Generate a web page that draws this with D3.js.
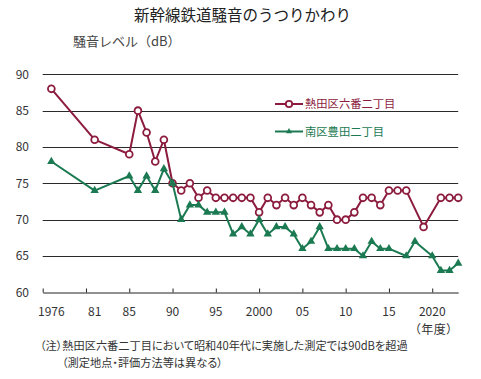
<!DOCTYPE html>
<html><head><meta charset="utf-8">
<script src="https://cdn.jsdelivr.net/npm/d3@7"></script>
<style>
body{margin:0;background:#fff;}
svg{display:block;font-family:"Noto Sans CJK JP","Noto Sans",sans-serif;}
</style></head>
<body><svg id="c" width="481" height="379"></svg>
<script>
const years = [1976,1981,1985,1986,1987,1988,1989,1990,1991,1992,1993,1994,1995,1996,1997,1998,1999,2000,2001,2002,2003,2004,2005,2006,2007,2008,2009,2010,2011,2012,2013,2014,2015,2016,2017,2018,2019,2020,2021,2022,2023];
const atsuta = [88,81,79,85,82,78,81,75,74,75,73,74,73,73,73,73,73,71,73,72,73,72,73,72,71,72,70,70,71,73,73,72,74,74,74,null,69,null,73,73,73];
const minami = [78,74,76,74,76,74,77,75,70,72,72,71,71,71,68,69,68,70,68,69,69,68,66,67,69,66,66,66,66,65,67,66,66,null,65,67,null,65,63,63,64];
const seriesNames = ["熱田区六番二丁目","南区豊田二丁目"];
const yTicks = [60,65,70,75,80,85,90];
const xTickMarks = [1975,1980,1985,1990,1995,2000,2005,2010,2015,2020];
const xLabelYears = [1976,1981,1985,1990,1995,2000,2005,2010,2015,2020];
const xLabelTexts = ["1976","81","85","90","95","2000","05","10","15","2020"];
const title = "新幹線鉄道騒音のうつりかわり";
const yTitle = "騒音レベル（dB）";
const xUnit = "（年度）";
const notes = ["（注）熱田区六番二丁目において昭和40年代に実施した測定では90dBを超過","（測定地点・評価方法等は異なる）"];

const RED = "#8c1c3e", GREEN = "#1b7a52";
const svg = d3.select("#c");
const x = d3.scaleLinear().domain([1975, 2023]).range([42.7, 458.2]);
const y = d3.scaleLinear().domain([60, 90]).range([292.3, 74.3]);

// title
svg.append("text").attr("x", 242.5).attr("y", 20.5).attr("text-anchor","middle")
  .attr("font-size","15.5px").attr("fill","#222").text(title);
svg.append("text").attr("x", 73).attr("y", 46).attr("font-size","13px").attr("fill","#444").text(yTitle);

// grid
svg.append("g").selectAll("line").data(yTicks.filter(v=>v>60)).join("line")
  .attr("x1", x(1975)).attr("x2", x(2023))
  .attr("y1", d=>Math.round(y(d))+0.5).attr("y2", d=>Math.round(y(d))+0.5)
  .attr("stroke","#2a2a2a").attr("stroke-width",1);

// y labels
svg.append("g").selectAll("text").data(yTicks).join("text")
  .attr("x", 29).attr("y", d=>y(d)+4.5).attr("text-anchor","end")
  .attr("font-size","12px").attr("fill","#333").text(d=>d);

// x axis
const xAxis = d3.axisBottom(x).tickValues(xTickMarks).tickSizeInner(-4).tickSizeOuter(0).tickFormat("");
const gx = svg.append("g").attr("transform", `translate(0,${Math.round(y(60))+0.5})`).call(xAxis);
gx.select(".domain").attr("stroke","#222");
gx.selectAll(".tick line").attr("stroke","#222");
svg.append("g").selectAll("text").data(xLabelYears).join("text")
  .attr("x", d=>x(d)).attr("y", 315.5).attr("text-anchor","middle")
  .attr("font-size","12px").attr("fill","#333").text((d,i)=>xLabelTexts[i]);
svg.append("text").attr("x", 433.5).attr("y", 334).attr("text-anchor","middle")
  .attr("font-size","12px").attr("fill","#333").text(xUnit)
  .style("font-feature-settings","'palt'").attr("textLength",38).attr("lengthAdjust","spacing");

// notes
svg.append("text").attr("x", 40).attr("y", 349.5).attr("font-size","11.2px").attr("fill","#333")
  .style("font-feature-settings","'palt'").text(notes[0]);
svg.append("text").attr("x", 62).attr("y", 366.5).attr("font-size","11.2px").attr("fill","#333")
  .style("font-feature-settings","'palt'").text(notes[1]);

// lines
function seriesData(vals){ return years.map((yr,i)=>({yr, v: vals[i]})).filter(d=>d.v!=null); }
const line = d3.line().x(d=>x(d.yr)).y(d=>y(d.v));
const redData = seriesData(atsuta), greenData = seriesData(minami);

svg.append("path").datum(redData).attr("d", line).attr("fill","none").attr("stroke",RED).attr("stroke-width",2).attr("stroke-linejoin","round");
svg.append("g").selectAll("circle").data(redData).join("circle")
  .attr("cx", d=>x(d.yr)).attr("cy", d=>y(d.v)).attr("r",3.4)
  .attr("fill","#fff").attr("stroke",RED).attr("stroke-width",1.8);

svg.append("path").datum(greenData).attr("d", line).attr("fill","none").attr("stroke",GREEN).attr("stroke-width",2).attr("stroke-linejoin","round");
const tri = d3.symbol().type(d3.symbolTriangle).size(30);
svg.append("g").selectAll("path").data(greenData).join("path")
  .attr("transform", d=>`translate(${x(d.yr)},${y(d.v)})`).attr("d", tri).attr("fill",GREEN);

// legend
const leg = [{name:seriesNames[0], c:RED, y:104, t:"c"},{name:seriesNames[1], c:GREEN, y:131.5, t:"t"}];
leg.forEach(l=>{
  svg.append("line").attr("x1",275).attr("x2",303).attr("y1",l.y).attr("y2",l.y).attr("stroke",l.c).attr("stroke-width",2);
  if(l.t==="c") svg.append("circle").attr("cx",289).attr("cy",l.y).attr("r",3.2).attr("fill","#fff").attr("stroke",l.c).attr("stroke-width",1.8);
  else svg.append("path").attr("transform",`translate(289,${l.y})`).attr("d", d3.symbol().type(d3.symbolTriangle).size(16)).attr("fill",l.c);
  svg.append("text").attr("x",305).attr("y",l.y+4).attr("font-size","11.3px").attr("fill",l.c).text(l.name);
});
</script></body></html>
